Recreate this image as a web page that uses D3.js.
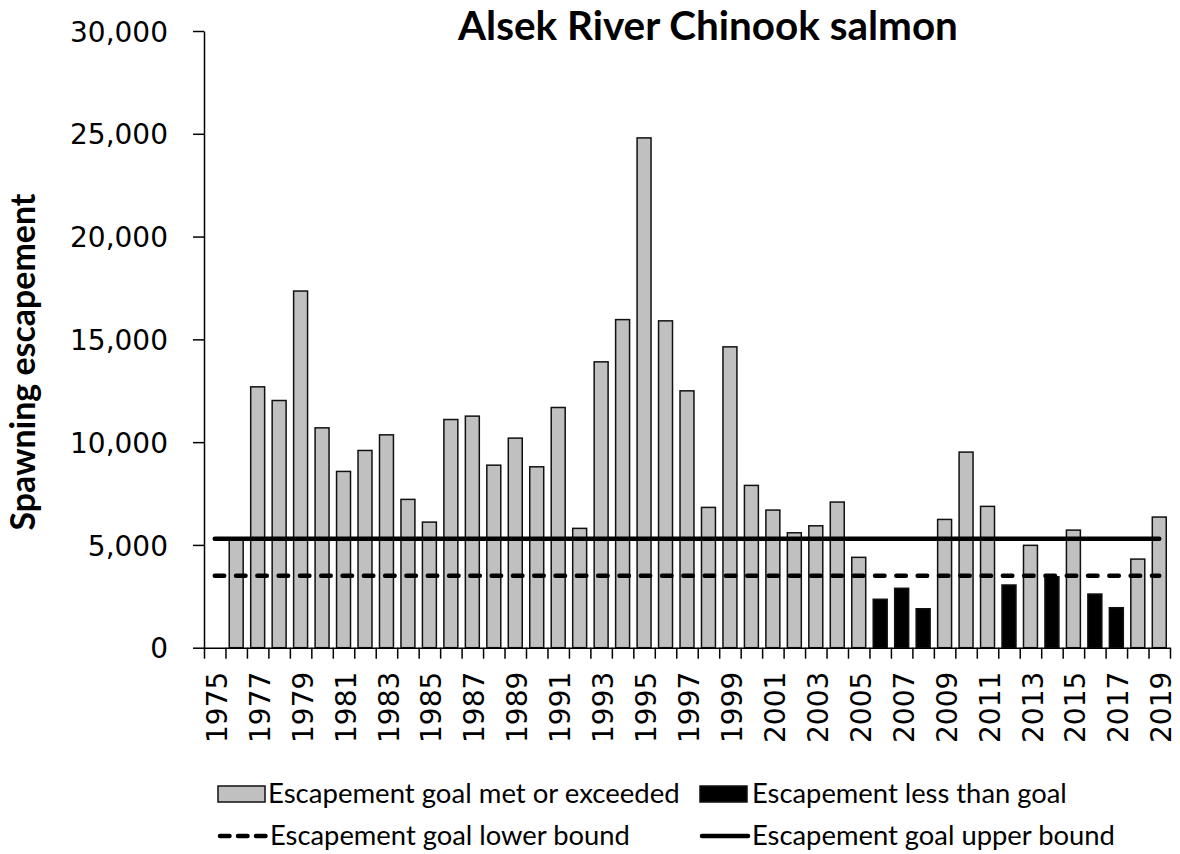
<!DOCTYPE html>
<meta charset="utf-8">
<style>
body { margin: 0; background: white; }
.axis text { font-family: "DejaVu Sans"; font-size: 28px; fill: #000; }
.axis path, .axis line { stroke: #000; stroke-width: 1.5px; }
.lbl { font-family: Lato, "Open Sans", sans-serif; fill: #000; }
</style>
<body>
<script src="https://d3js.org/d3.v7.min.js"></script>
<script>
var width = 1180,
    height = 854;

// Alsek River Chinook spawning escapement
var years = d3.range(1975, 2020);
var escapement = [null, 5300, 12690, 12025, 17350, 10695, 8575, 9595, 10355, 7215,
  6110, 11100, 11265, 8880, 10195, 8800, 11685, 5805, 13905, 15960,
  24800, 15900, 12495, 6825, 14635, 7895, 6695, 5590, 5930, 7085,
  4395, 2355, 2890, 1895, 6240, 9515, 6875, 3050, 4980, 3450,
  5720, 2610, 1945, 4310, 6355];
var goalLower = 3500,
    goalUpper = 5300;
var yTicks = [0, 5000, 10000, 15000, 20000, 25000, 30000];
var xLabelYears = years.filter(function(d) { return (d - 1975) % 2 == 0; });

var legendItems = [
  {label: "Escapement goal met or exceeded", kind: "grey"},
  {label: "Escapement less than goal", kind: "black"},
  {label: "Escapement goal lower bound", kind: "dash"},
  {label: "Escapement goal upper bound", kind: "solid"}
];

var data = years.map(function(d, i) { return {year: d, value: escapement[i]}; });

// plot box (window.top is taken, so no plain "top")
var plotLeft = 204, plotRight = 1170, plotTop = 31, plotBottom = 647.7;

var x = d3.scaleBand()
    .domain(years)
    .range([plotLeft, plotRight])
    .paddingInner(0.35)
    .paddingOuter(0.175);

var xEdge = d3.scaleLinear()
    .domain([0, years.length])
    .range([plotLeft, plotRight]);

var y = d3.scaleLinear()
    .domain([0, 30000])
    .range([plotBottom, plotTop]);

var svg = d3.select("body").append("svg")
    .attr("width", width)
    .attr("height", height);

// squeeze or stretch a text to a measured width by its font size
function fitWidth(sel, w) {
  var fs = parseFloat(sel.style("font-size"));
  var len = sel.node().getComputedTextLength();
  sel.style("font-size", (fs * w / len) + "px");
}

// bars
svg.append("g").selectAll("rect")
    .data(data.filter(function(d) { return d.value != null; }))
  .enter().append("rect")
    .attr("x", function(d) { return x(d.year); })
    .attr("width", x.bandwidth())
    .attr("y", function(d) { return y(d.value); })
    .attr("height", function(d) { return y(0) - y(d.value); })
    .attr("fill", function(d) { return d.value < goalLower ? "#000" : "#c0c0c0"; })
    .attr("stroke", "#111")
    .attr("stroke-width", 1.5);

// goal lines
var line = d3.line()
    .x(function(d) { return x(d.year) + x.bandwidth() / 2; })
    .y(function(d) { return y(d.v); });

svg.append("path")
    .datum(years.map(function(d) { return {year: d, v: goalLower}; }))
    .attr("d", line)
    .attr("fill", "none")
    .attr("stroke", "#000")
    .attr("stroke-width", 4.5)
    .attr("stroke-linecap", "round")
    .attr("stroke-dasharray", "9.5,11.8");

svg.append("path")
    .datum(years.map(function(d) { return {year: d, v: goalUpper}; }))
    .attr("d", line)
    .attr("fill", "none")
    .attr("stroke", "#000")
    .attr("stroke-width", 4.5)
    .attr("stroke-linecap", "round");

// y axis
svg.append("g")
    .attr("class", "axis")
    .attr("transform", "translate(" + plotLeft + ",0)")
    .call(d3.axisLeft(y).tickValues(yTicks).tickFormat(d3.format(","))
      .tickSize(11).tickSizeOuter(0).tickPadding(25))
    .selectAll("text").attr("dy", "0.36em");

// x axis: ticks between years
svg.append("g")
    .attr("class", "axis")
    .attr("transform", "translate(0," + plotBottom + ")")
    .call(d3.axisBottom(xEdge).tickValues(d3.range(0, years.length + 1))
      .tickSize(11).tickSizeOuter(0).tickFormat(""));

var xl = svg.append("g")
    .attr("class", "axis")
    .attr("transform", "translate(0," + plotBottom + ")")
    .call(d3.axisBottom(x).tickValues(xLabelYears).tickSize(0));
xl.select(".domain").remove();
xl.selectAll("text")
    .attr("transform", "rotate(-90)")
    .attr("text-anchor", "end")
    .attr("x", -24)
    .attr("y", 2)
    .attr("dy", "0.36em");

// title
svg.append("text")
    .attr("class", "lbl")
    .attr("x", 708)
    .attr("y", 40)
    .attr("text-anchor", "middle")
    .style("font-weight", "bold")
    .style("font-size", "32px")
    .text("Alsek River Chinook salmon")
    .call(fitWidth, 500);

// y label
svg.append("text")
    .attr("class", "lbl")
    .attr("transform", "translate(35,362) rotate(-90)")
    .attr("text-anchor", "middle")
    .style("font-weight", "bold")
    .style("font-size", "26px")
    .text("Spawning escapement")
    .call(fitWidth, 337);

// legend
var legendPos = [
  {x: 218, y: 794, tx: 268, w: 412},
  {x: 700, y: 794, tx: 752, w: 315},
  {x: 218, y: 836, tx: 270, w: 360},
  {x: 700, y: 836, tx: 752, w: 363}
];

legendItems.forEach(function(item, i) {
  var p = legendPos[i];
  var g = svg.append("g");
  if (item.kind == "grey" || item.kind == "black") {
    g.append("rect")
        .attr("x", p.x)
        .attr("y", p.y - 8)
        .attr("width", 47)
        .attr("height", 16)
        .attr("fill", item.kind == "grey" ? "#c0c0c0" : "#000")
        .attr("stroke", "#111")
        .attr("stroke-width", 1.5);
  } else {
    g.append("line")
        .attr("x1", p.x + 2)
        .attr("x2", p.tx - 4)
        .attr("y1", p.y)
        .attr("y2", p.y)
        .attr("stroke", "#000")
        .attr("stroke-width", 4.5)
        .attr("stroke-linecap", "round")
        .attr("stroke-dasharray", item.kind == "dash" ? "9.5,8.5" : null);
  }
  g.append("text")
      .attr("class", "lbl")
      .attr("x", p.tx)
      .attr("y", p.y + 9)
      .style("font-size", "24px")
      .text(item.label)
      .call(fitWidth, p.w);
});
</script>
</body>
</html>
